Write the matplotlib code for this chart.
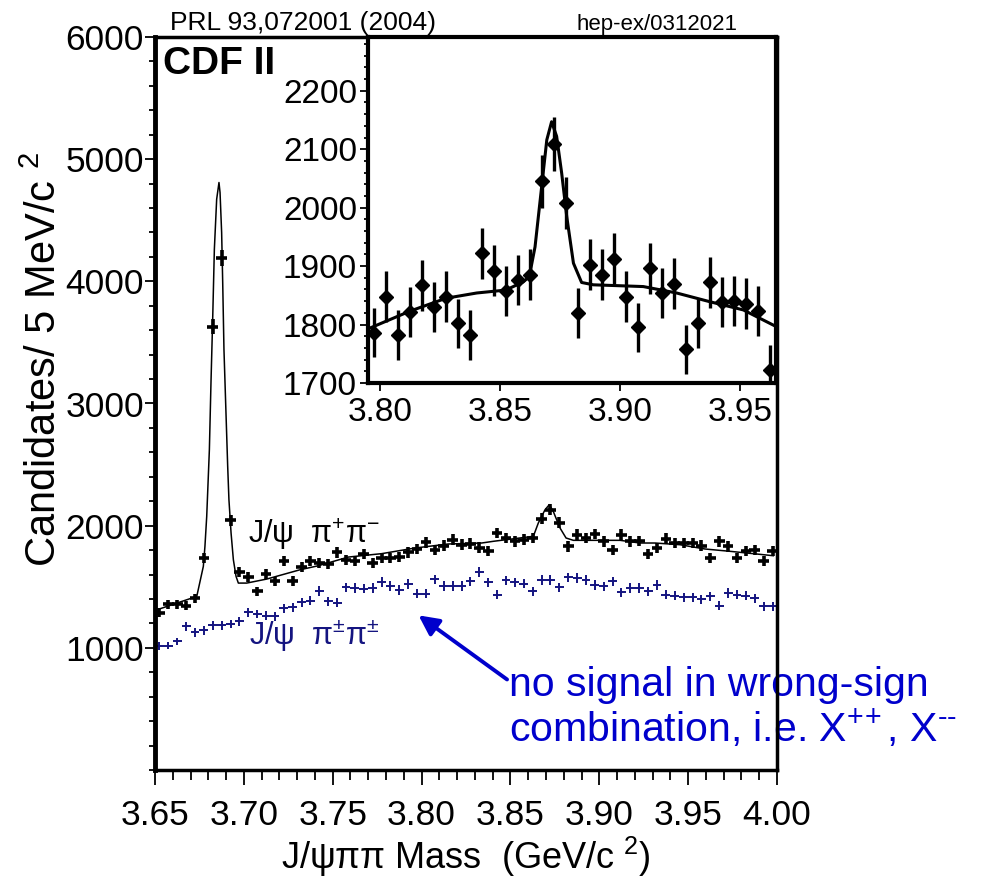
import numpy as np
import matplotlib
matplotlib.use('Agg')
import matplotlib.pyplot as plt
from matplotlib.ticker import MultipleLocator, FixedLocator

plt.rcParams['font.family'] = ['Liberation Sans', 'DejaVu Sans']
plt.rcParams['mathtext.fontset'] = 'custom'
plt.rcParams['mathtext.rm'] = 'Liberation Sans'
plt.rcParams['mathtext.it'] = 'Liberation Sans'
plt.rcParams['mathtext.default'] = 'regular'

# J/psi pi pi mass, 5 MeV bins (bin centres)
mass = np.arange(3.6525, 4.0, 0.005)

# right-sign J/psi pi+ pi- candidates
right_sign = [1289, 1358, 1358, 1344, 1407, 1735, 3630, 4190, 2044, 1618,
              1579, 1462, 1604, 1544, 1708, 1549, 1661, 1708, 1697, 1689,
              1781, 1721, 1713, 1768, 1694, 1735, 1735, 1743, 1781, 1809,
              1863, 1803, 1836, 1885, 1844, 1852, 1820, 1790, 1940, 1899,
              1872, 1885, 1899, 2055, 2131, 2022, 1831, 1926, 1899, 1932,
              1872, 1803, 1926, 1872, 1876, 1771, 1817, 1893, 1858, 1858,
              1858, 1836, 1735, 1872, 1831, 1735, 1790, 1803, 1708, 1790]

# wrong-sign J/psi pi+- pi+- candidates
wrong_sign = [1015, 1019, 1052, 1175, 1126, 1142, 1183, 1183, 1197, 1216,
              1290, 1276, 1262, 1257, 1325, 1331, 1372, 1385, 1466, 1380,
              1370, 1496, 1489, 1485, 1489, 1540, 1505, 1474, 1523, 1444,
              1444, 1560, 1508, 1508, 1508, 1544, 1620, 1535, 1434, 1552,
              1535, 1525, 1462, 1557, 1557, 1494, 1576, 1571, 1557, 1516,
              1503, 1544, 1453, 1489, 1489, 1462, 1516, 1434, 1426, 1415,
              1415, 1399, 1421, 1344, 1448, 1434, 1426, 1407, 1339, 1339]

# fit curve
fit_mass = [3.6510, 3.6735, 3.6772, 3.6781, 3.6791, 3.6806, 3.6815, 3.6825,
            3.6834, 3.6847, 3.6860, 3.6866, 3.6875, 3.6881, 3.6888, 3.6900,
            3.6909, 3.6916, 3.6928, 3.6941, 3.6956, 3.6969, 3.7016, 3.7129,
            3.7316, 3.7419, 3.7588, 3.7776, 3.7963, 3.8150, 3.8338, 3.8404,
            3.8629, 3.8657, 3.8695, 3.8719, 3.8741, 3.8779, 3.8813, 3.8854,
            3.9117, 3.9229, 3.9314, 3.9454, 3.9595, 3.9736, 3.9886, 3.9979]
fit_counts = [1311, 1421, 1667, 1830, 2076, 2623, 3170, 3716,
              4262, 4672, 4809, 4727, 4399, 3989, 3443, 2896,
              2486, 2213, 1940, 1721, 1585, 1530, 1530, 1563,
              1639, 1672, 1743, 1771, 1817, 1850, 1858, 1872,
              1913, 2022, 2131, 2172, 2117, 1981, 1899, 1880,
              1880, 1858, 1858, 1844, 1809, 1790, 1768, 1754]

# inset: X(3872) region
inset_mass = np.arange(3.7975, 3.965, 0.005)
inset_counts = [1786, 1848, 1782, 1821, 1867, 1830, 1848, 1802, 1782, 1922,
                1892, 1857, 1876, 1885, 2045, 2109, 2008, 1820, 1902, 1885,
                1913, 1848, 1795, 1896, 1854, 1870, 1758, 1802, 1872, 1839,
                1841, 1836, 1823, 1723]
inset_fit_mass = [3.7958, 3.8125, 3.8275, 3.8403, 3.8524, 3.8597, 3.8622,
                  3.8646, 3.8672, 3.8695, 3.8715, 3.8736, 3.8757, 3.8778,
                  3.8806, 3.8840, 3.8889, 3.9097, 3.9236, 3.9375, 3.9514,
                  3.9639]
inset_fit_counts = [1794, 1823, 1845, 1854, 1859, 1873, 1882, 1933, 2030,
                    2116, 2147, 2122, 2059, 1985, 1905, 1872, 1868, 1865,
                    1854, 1839, 1825, 1799]

navy = '#141480'
blue = '#0000cc'

fig = plt.figure(figsize=(9.83, 8.8), dpi=100)

# ---- main panel
ax = fig.add_axes([155/983, 110/880, 622/983, 733/880])
ax.errorbar(mass, right_sign, xerr=0.003, yerr=np.sqrt(right_sign),
            fmt='none', ecolor='black', elinewidth=2.6, capsize=0)
ax.errorbar(mass, wrong_sign, xerr=0.0025, yerr=np.sqrt(wrong_sign),
            fmt='none', ecolor=navy, elinewidth=1.4, capsize=0)
ax.plot(fit_mass, fit_counts, color='black', lw=1.1)

ax.set_xlim(3.65, 4.00)
ax.set_ylim(0, 6000)
ax.xaxis.set_major_locator(FixedLocator([3.65, 3.70, 3.75, 3.80, 3.85, 3.90, 3.95, 4.00]))
ax.set_xticklabels(['3.65', '3.70', '3.75', '3.80', '3.85', '3.90', '3.95', '4.00'])
ax.xaxis.set_minor_locator(MultipleLocator(0.01))
ax.yaxis.set_major_locator(FixedLocator([1000, 2000, 3000, 4000, 5000, 6000]))
ax.yaxis.set_minor_locator(MultipleLocator(200))
ax.tick_params(which='both', direction='out', width=1.3, labelsize=25.5)
ax.tick_params(axis='y', which='major', length=7, pad=1)
ax.tick_params(axis='y', which='minor', length=4)
ax.tick_params(axis='x', which='major', length=11, pad=10)
ax.tick_params(axis='x', which='minor', length=7)
for s in ax.spines.values():
    s.set_linewidth(2.5)
ax.spines['left'].set_linewidth(3.5)

ax.set_xlabel(r'J/ψππ Mass  (GeV/c $^{2}$)', fontsize=26, labelpad=2)
ax.set_ylabel(r'Candidates/ 5 MeV/c $^{2}$', fontsize=30)
ax.yaxis.set_label_coords(-0.145, 0.56)

ax.text(3.7023, 1860, r'J/ψ  π$^{+}$π$^{-}$', fontsize=22, color='black', va='baseline')
ax.text(3.7030, 1025, r'J/ψ  π$^{\pm}$π$^{\pm}$', fontsize=22, color=navy, va='baseline')
ax.text(3.6545, 5700, 'CDF II', fontsize=28, fontweight='bold', va='baseline')

ax.annotate('', xy=(3.7983, 1266), xytext=(3.8481, 741),
            arrowprops=dict(arrowstyle='-|>', color=blue, lw=2.8,
                            mutation_scale=30, shrinkA=0, shrinkB=0))
ax.text(3.8492, 230,
        'no signal in wrong-sign\ncombination, i.e. X$^{+\\!+}$, X$^{\u2010\u2010}$',
        fontsize=29.5, color=blue, va='baseline', ha='left', linespacing=1.08,
        clip_on=False, zorder=2)

fig.text(170/983, 1 - 30/880, 'PRL 93,072001 (2004)', fontsize=19, va='baseline')
fig.text(577/983, 1 - 30/880, 'hep-ex/0312021', fontsize=16, va='baseline')

# ---- inset
ins = fig.add_axes([368/983, 1 - 383/880, 408/983, 346/880])
ins.errorbar(inset_mass, inset_counts, yerr=np.sqrt(inset_counts), fmt='D',
             ms=7, color='black', elinewidth=2.4, capsize=0)
ins.plot(inset_fit_mass, inset_fit_counts, color='black', lw=2.2)
ins.set_xlim(3.795, 3.965)
ins.set_ylim(1700, 2292)
ins.xaxis.set_major_locator(FixedLocator([3.80, 3.85, 3.90, 3.95]))
ins.set_xticklabels(['3.80', '3.85', '3.90', '3.95'])
ins.yaxis.set_major_locator(FixedLocator([1700, 1800, 1900, 2000, 2100, 2200]))
ins.yaxis.set_minor_locator(MultipleLocator(20))
ins.tick_params(which='both', direction='out', width=1.3, labelsize=24)
ins.tick_params(axis='y', which='major', length=6, pad=2)
ins.tick_params(axis='y', which='minor', length=3)
ins.tick_params(axis='x', which='major', length=6, pad=4)
for s in ins.spines.values():
    s.set_linewidth(3)

fig.savefig('out.png', dpi=100)
